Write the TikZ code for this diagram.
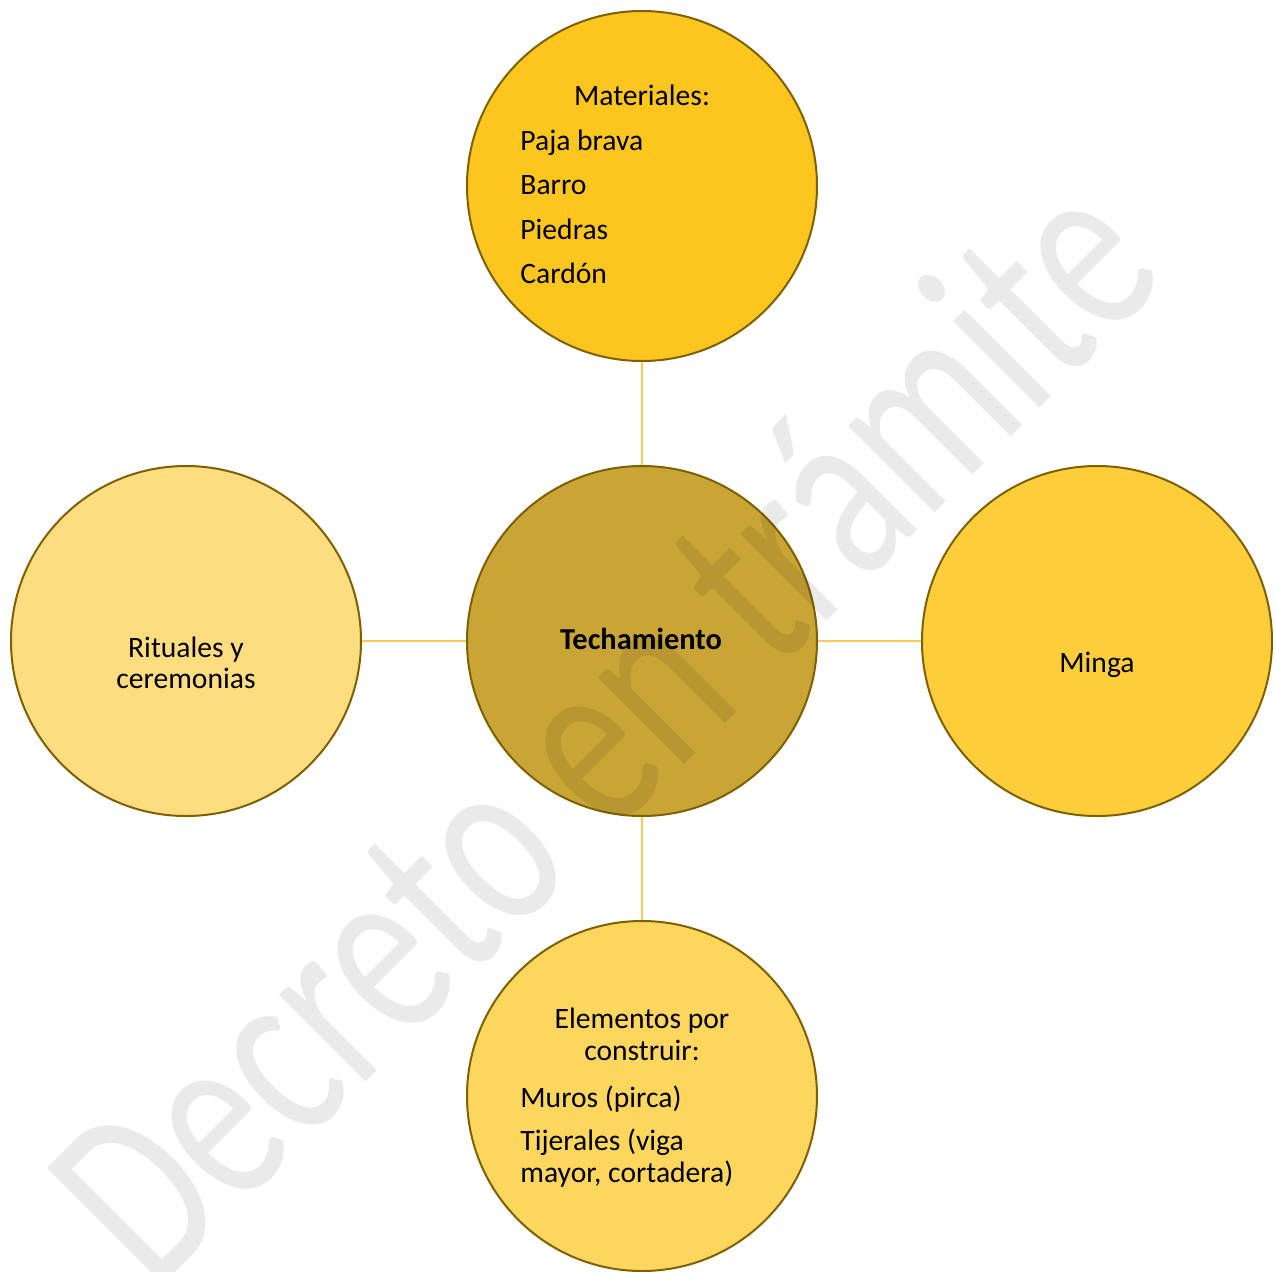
\documentclass[tikz,border=0pt]{standalone}
\usepackage{fontspec}
\setmainfont{Carlito}
\definecolor{rimgold}{HTML}{7F6000}
\definecolor{linkgold}{HTML}{FAC858}
\definecolor{topgold}{HTML}{FDC61E}
\definecolor{midgold}{HTML}{C9A535}
\definecolor{leftgold}{HTML}{FEDD80}
\definecolor{rightgold}{HTML}{FECE3A}
\definecolor{botgold}{HTML}{FDD65E}
\begin{document}
\begin{tikzpicture}[x=0.5pt,y=-0.5pt,
  bubble/.style={circle, draw=rimgold, line width=1pt, minimum size=175pt, inner sep=0pt},
  link/.style={draw=linkgold, line width=1.3pt},
  txt/.style={inner sep=0pt, text=black, font=\fontsize{14.8}{17}\selectfont},
  stamp/.style={inner sep=0pt, rotate=45, text=black, text opacity=0.082,
    font=\fontsize{128}{130}\selectfont}]
\useasboundingbox (0,0) rectangle (1276,1271);

% circles
\node[bubble, fill=topgold]   (mat)   at (642,186)  {};
\node[bubble, fill=midgold]   (tech)  at (642,641)  {};
\node[bubble, fill=leftgold]  (rit)   at (186,641)  {};
\node[bubble, fill=rightgold] (minga) at (1097,641) {};
\node[bubble, fill=botgold]   (elem)  at (642,1096) {};

% connectors
\draw[link] (mat) -- (tech);
\draw[link] (rit) -- (tech);
\draw[link] (tech) -- (minga);
\draw[link] (tech) -- (elem);

% texts
\node[txt, anchor=base]      (matT) at (642,105) {Materiales:};
\node[txt, anchor=base west] (mat1) at (520,150) {Paja brava};
\node[txt, anchor=base west] (mat2) at (520,194) {Barro};
\node[txt, anchor=base west] (mat3) at (520,239) {Piedras};
\node[txt, anchor=base west] (mat4) at (520,283) {Cardón};

\node[txt, anchor=base, font=\fontsize{15.2}{17}\selectfont\bfseries] (techT) at (641,649) {Techamiento};

\node[txt, anchor=base] (rit1) at (186,657) {Rituales y};
\node[txt, anchor=base] (rit2) at (186,688) {ceremonias};

\node[txt, anchor=base] (mingaT) at (1097,672) {Minga};

\node[txt, anchor=base]      (elem1) at (642,1028) {Elementos por};
\node[txt, anchor=base]      (elem2) at (642,1060) {construir:};
\node[txt, anchor=base west] (elem3) at (520,1107) {Muros (pirca)};
\node[txt, anchor=base west] (elem4) at (520,1150) {Tijerales (viga};
\node[txt, anchor=base west] (elem5) at (520,1182) {mayor, cortadera)};

% watermark
\node[stamp, anchor=base] (wm) at (662,786) {\scalebox{0.73}[1]{Decreto en trámite}};
\end{tikzpicture}
\end{document}
